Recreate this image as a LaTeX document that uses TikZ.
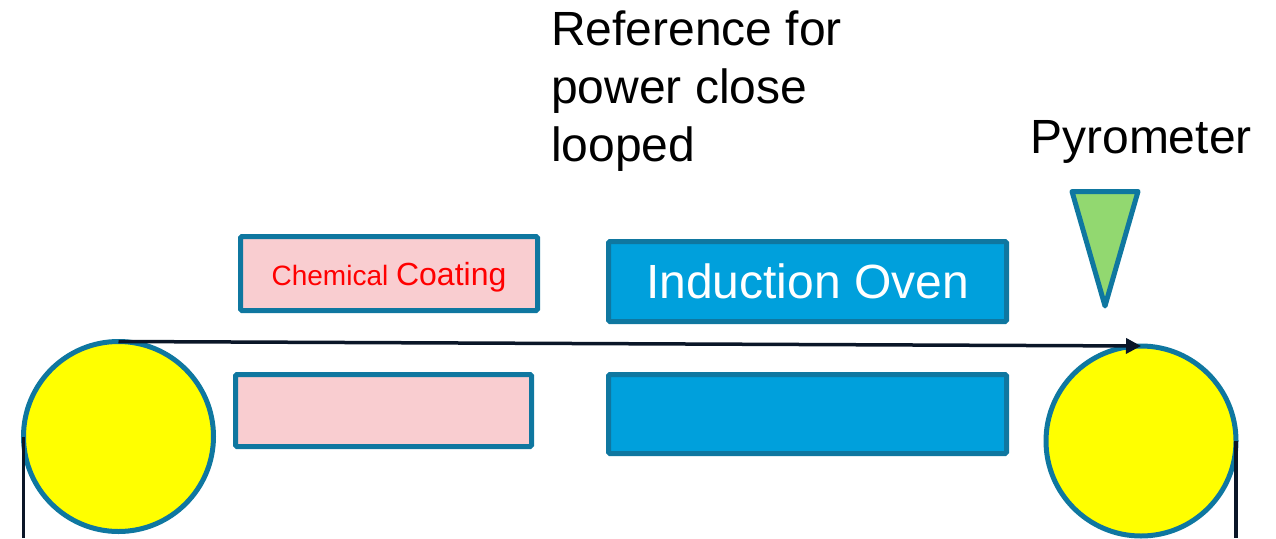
\documentclass[tikz,border=0pt]{standalone}
\usepackage{fontspec}
\setmainfont{Liberation Sans}
\usepackage{xcolor}
\usetikzlibrary{arrows.meta}
\usetikzlibrary{positioning}

\definecolor{rimblue}{HTML}{0F77A0}
\definecolor{coatpink}{HTML}{F9CDD0}
\definecolor{ovenblue}{HTML}{00A0DC}
\definecolor{pyrogreen}{HTML}{92D870}
\definecolor{stripnavy}{HTML}{0A1628}
\definecolor{rollyellow}{HTML}{FFFF00}
\definecolor{coatred}{HTML}{FF0000}

\begin{document}
\begin{tikzpicture}[
  x=1pt, y=-1pt,
  % rollers at both ends of the strip
  roll/.style={circle, draw=rimblue, line width=5pt, fill=rollyellow, minimum size=190pt, inner sep=0pt, outer sep=0pt},
  % coating and oven boxes
  coater/.style={draw=rimblue, line width=5pt, fill=coatpink, rounded corners=1.5pt, inner sep=0pt, outer sep=0pt, text depth=0pt},
  oven/.style={draw=rimblue, line width=5pt, fill=ovenblue, rounded corners=1.5pt, inner sep=0pt, outer sep=0pt, text=white, font=\fontsize{48}{58}\selectfont},
  % strip lines
  strip/.style={draw=stripnavy, line width=3.5pt},
  label_text/.style={inner sep=0pt, text=black, font=\fontsize{48}{58}\selectfont}
]
\useasboundingbox (0,0) rectangle (1276,538);

% rollers
\node[roll] (Lroll) at (118.5, 436.5) {};
\node[roll] (Rroll) at (1141, 441) {};

% chemical coating pair
\node[coater, minimum width=297pt, minimum height=74pt] (CoatTop) at (389, 273.5)
  {\textcolor{coatred}{\fontsize{28}{34}\selectfont Chemical \fontsize{32}{38}\selectfont Coating}};
\node[coater, minimum width=296pt, minimum height=72pt] (CoatBot) at (383.5, 410.5) {};

% induction oven pair
\node[oven, minimum width=398pt, minimum height=80pt] (OvenTop) at (807.5, 281.5) {Induction Oven};
\node[oven, minimum width=398pt, minimum height=79pt] (OvenBot) at (807.5, 414) {};

% pyrometer
\draw[draw=rimblue, line width=5pt, fill=pyrogreen, line join=round] (1072, 191.5) -- (1138, 191.5) -- (1105, 306) -- cycle;
\node[label_text, anchor=base] (PyroText) at (1141, 153) {Pyrometer};

% reference text
\node[label_text, anchor=north west, align=left] (RefText) at (551, 11) {Reference for\\power close\\looped};

% strip path
\coordinate (Lend) at (Lroll.west |- 0, 538);
\coordinate (Rend) at (Rroll.east |- 0, 538);
\draw[strip] (Lroll.west) -- (Lend);
\draw[strip] (Rroll.east) -- (Rend);
\draw[strip, -{Triangle[length=15pt, width=15pt]}] (Lroll.north) -- (Rroll.north);

\end{tikzpicture}
\end{document}
